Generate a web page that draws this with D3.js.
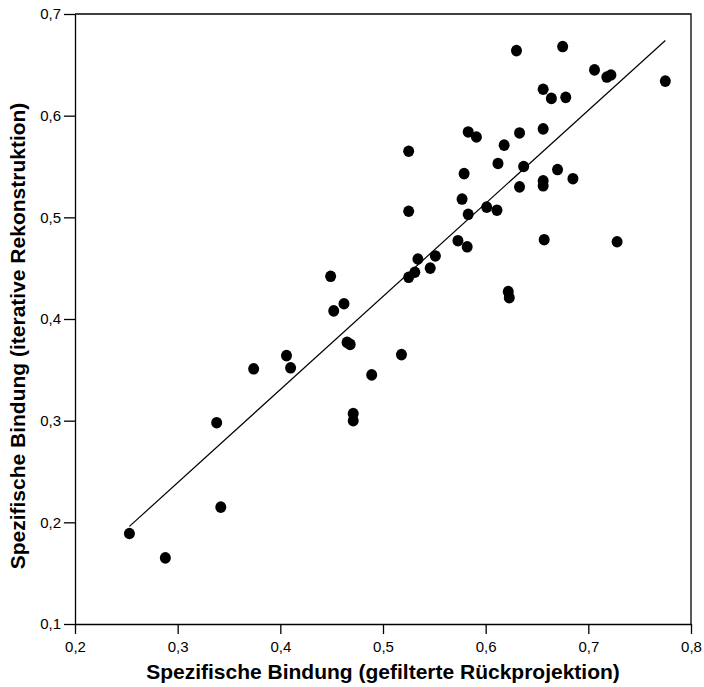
<!DOCTYPE html>
<html>
<head>
<meta charset="utf-8">
<script src="https://cdn.jsdelivr.net/npm/d3@7"></script>
<style>
  body { margin: 0; background: #fff; }
  svg { font-family: "Liberation Sans", Arial, sans-serif; }
</style>
</head>
<body>
<div id="chart"></div>
<script>
// scatter values
const xVals = [0.253, 0.288, 0.338, 0.342, 0.374, 0.406, 0.410, 0.449, 0.452, 0.462,
  0.465, 0.468, 0.471, 0.471, 0.489, 0.518, 0.525, 0.525, 0.525, 0.531,
  0.534, 0.546, 0.551, 0.573, 0.582, 0.577, 0.579, 0.583, 0.583, 0.591,
  0.601, 0.611, 0.612, 0.618, 0.630, 0.633, 0.637, 0.633, 0.622, 0.623,
  0.656, 0.656, 0.664, 0.678, 0.675, 0.656, 0.656, 0.657, 0.670, 0.685,
  0.706, 0.718, 0.722, 0.728, 0.775];
const yVals = [0.189, 0.165, 0.298, 0.215, 0.351, 0.364, 0.352, 0.442, 0.408, 0.415,
  0.377, 0.375, 0.307, 0.300, 0.345, 0.365, 0.506, 0.565, 0.441, 0.446,
  0.459, 0.450, 0.462, 0.477, 0.471, 0.518, 0.543, 0.503, 0.584, 0.579,
  0.510, 0.507, 0.553, 0.571, 0.664, 0.583, 0.550, 0.530, 0.427, 0.421,
  0.587, 0.626, 0.617, 0.618, 0.668, 0.536, 0.531, 0.478, 0.547, 0.538,
  0.645, 0.638, 0.640, 0.476, 0.634];

// fit line end points
const lineX = [0.253, 0.775];
const lineY = [0.196, 0.674];

const xTicks = [0.2, 0.3, 0.4, 0.5, 0.6, 0.7, 0.8];
const yTicks = [0.1, 0.2, 0.3, 0.4, 0.5, 0.6, 0.7];

const xTitle = "Spezifische Bindung (gefilterte Rückprojektion)";
const yTitle = "Spezifische Bindung (iterative Rekonstruktion)";

const W = 704, H = 687;
const margin = { top: 14, right: 13, bottom: 63, left: 75 };
const width = W - margin.left - margin.right;
const height = H - margin.top - margin.bottom;

const svg = d3.select("#chart").append("svg")
  .attr("width", W)
  .attr("height", H);

const g = svg.append("g")
  .attr("transform", `translate(${margin.left},${margin.top})`);

const x = d3.scaleLinear().domain([0.2, 0.8]).range([0, width]);
const y = d3.scaleLinear().domain([0.1, 0.7]).range([height, 0]);

const fmt = d => d3.format(".1f")(d).replace(".", ",");

// frame (top and right)
g.append("path")
  .attr("d", `M0,0H${width}V${height}`)
  .attr("fill", "none")
  .attr("stroke", "#000")
  .attr("stroke-width", 1.3);

const xAxis = g.append("g")
  .attr("transform", `translate(0,${height})`)
  .call(d3.axisBottom(x).tickValues(xTicks).tickFormat(fmt).tickSize(10).tickPadding(7).tickSizeOuter(0));

const yAxis = g.append("g")
  .call(d3.axisLeft(y).tickValues(yTicks).tickFormat(fmt).tickSize(11).tickPadding(3).tickSizeOuter(0));

[xAxis, yAxis].forEach(a => {
  a.select(".domain").attr("stroke-width", 1.3);
  a.selectAll(".tick line").attr("stroke-width", 1.3);
  a.selectAll("text")
    .attr("font-size", 15)
    .attr("font-family", "Liberation Sans, Arial, sans-serif")
    .attr("fill", "#000");
});

// regression line
g.append("path")
  .datum(lineX.map((v, i) => [v, lineY[i]]))
  .attr("d", d3.line().x(d => x(d[0])).y(d => y(d[1])))
  .attr("fill", "none")
  .attr("stroke", "#000")
  .attr("stroke-width", 1.2);

// dots
g.selectAll("ellipse.dot")
  .data(xVals.map((v, i) => [v, yVals[i]]))
  .join("ellipse")
  .attr("class", "dot")
  .attr("cx", d => x(d[0]))
  .attr("cy", d => y(d[1]))
  .attr("rx", 5.5)
  .attr("ry", 5.8)
  .attr("fill", "#000");

// axis titles
svg.append("text")
  .attr("x", margin.left + width / 2)
  .attr("y", 679)
  .attr("text-anchor", "middle")
  .attr("font-size", 21)
  .attr("font-weight", "bold")
  .text(xTitle);

svg.append("text")
  .attr("transform", `translate(25,336) rotate(-90)`)
  .attr("text-anchor", "middle")
  .attr("font-size", 21)
  .attr("font-weight", "bold")
  .text(yTitle);
</script>
</body>
</html>
